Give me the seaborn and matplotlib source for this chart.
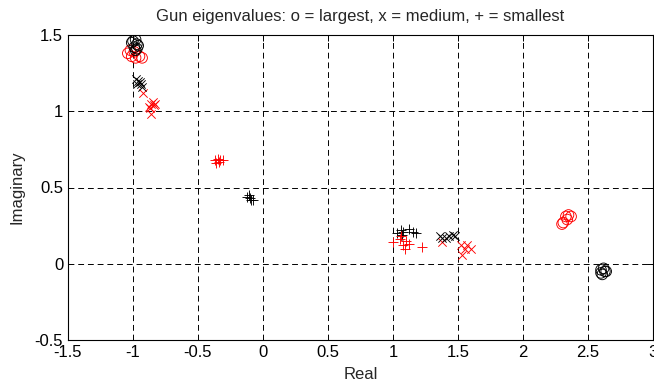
import matplotlib
matplotlib.use("Agg")
import matplotlib.pyplot as plt
import seaborn as sns
import pandas as pd

# --- data ---
largest_black_x = [-1.00, -0.98, -0.97, -0.99, -0.96, -1.01, -0.98, -0.97]
largest_black_y = [1.46, 1.47, 1.44, 1.42, 1.43, 1.45, 1.40, 1.41]
largest_red_x = [-1.04, -1.01, -0.98, -0.95, -0.99, -0.93, -1.02]
largest_red_y = [1.38, 1.36, 1.35, 1.36, 1.39, 1.35, 1.40]
largest_black2_x = [2.60, 2.62, 2.63, 2.61, 2.64, 2.60]
largest_black2_y = [-0.04, -0.03, -0.05, -0.07, -0.05, -0.06]
largest_red2_x = [2.31, 2.33, 2.35, 2.37, 2.34, 2.30]
largest_red2_y = [0.27, 0.31, 0.32, 0.31, 0.29, 0.26]

medium_black_x = [-0.98, -0.96, -0.95, -0.97, -0.94, -0.93]
medium_black_y = [1.21, 1.20, 1.19, 1.18, 1.18, 1.16]
medium_red_x = [-0.92, -0.88, -0.86, -0.85, -0.83, -0.87, -0.86, -0.84]
medium_red_y = [1.12, 1.03, 1.05, 1.06, 1.05, 1.02, 0.98, 1.04]
medium_black2_x = [1.36, 1.38, 1.43, 1.46, 1.48, 1.41]
medium_black2_y = [0.18, 0.17, 0.18, 0.19, 0.18, 0.17]
medium_red2_x = [1.38, 1.52, 1.55, 1.57, 1.60, 1.53]
medium_red2_y = [0.14, 0.12, 0.10, 0.12, 0.10, 0.06]

smallest_red_x = [-0.37, -0.35, -0.34, -0.33, -0.36, -0.31]
smallest_red_y = [0.68, 0.69, 0.67, 0.68, 0.66, 0.68]
smallest_black_x = [-0.12, -0.10, -0.09, -0.11, -0.08]
smallest_black_y = [0.44, 0.43, 0.42, 0.45, 0.42]
smallest_black2_x = [1.03, 1.06, 1.08, 1.12, 1.15, 1.18, 1.07]
smallest_black2_y = [0.20, 0.22, 0.21, 0.23, 0.21, 0.20, 0.19]
smallest_red2_x = [1.00, 1.05, 1.08, 1.09, 1.10, 1.12, 1.22, 1.06]
smallest_red2_y = [0.14, 0.16, 0.12, 0.10, 0.15, 0.13, 0.11, 0.18]

x_ticks = [-1.5, -1, -0.5, 0, 0.5, 1, 1.5, 2, 2.5, 3]
x_tick_labels = ["-1.5", "-1", "-0.5", "0", "0.5", "1", "1.5", "2", "2.5", "3"]
y_ticks = [-0.5, 0, 0.5, 1, 1.5]
y_tick_labels = ["-0.5", "0", "0.5", "1", "1.5"]

sns.set_style("white")
plt.rcParams['font.family'] = ['Liberation Sans', 'DejaVu Sans']

fig = plt.figure(figsize=(6.54, 3.85), dpi=100)
ax = fig.add_axes([68/654, 45/385, 585/654, 305/385])

groups = [
    (largest_red_x, largest_red_y, 'o', 'red'),
    (largest_black_x, largest_black_y, 'o', 'black'),
    (largest_red2_x, largest_red2_y, 'o', 'red'),
    (largest_black2_x, largest_black2_y, 'o', 'black'),
    (medium_red_x, medium_red_y, 'x', 'red'),
    (medium_black_x, medium_black_y, 'x', 'black'),
    (medium_red2_x, medium_red2_y, 'x', 'red'),
    (medium_black2_x, medium_black2_y, 'x', 'black'),
    (smallest_black_x, smallest_black_y, '+', 'black'),
    (smallest_red_x, smallest_red_y, '+', 'red'),
    (smallest_black2_x, smallest_black2_y, '+', 'black'),
    (smallest_red2_x, smallest_red2_y, '+', 'red'),
]

for gx, gy, m, c in groups:
    df = pd.DataFrame({"x": gx, "y": gy})
    if m == 'o':
        sns.scatterplot(data=df, x="x", y="y", marker='o', s=58, ax=ax,
                        facecolors='none', edgecolor=c, linewidth=0.65, legend=False)
    elif m == 'x':
        sns.scatterplot(data=df, x="x", y="y", marker=m, s=36, ax=ax,
                        color=c, linewidth=0.65, legend=False)
    else:
        sns.scatterplot(data=df, x="x", y="y", marker=m, s=55, ax=ax,
                        color=c, linewidth=0.65, legend=False)

ax.set_xlim(-1.5, 3)
ax.set_ylim(-0.5, 1.5)
ax.set_xticks(x_ticks)
ax.set_xticklabels(x_tick_labels)
ax.set_yticks(y_ticks)
ax.set_yticklabels(y_tick_labels)
ax.grid(True, color='black', linestyle=(0, (6, 4)), linewidth=0.7)
ax.tick_params(direction='in', top=True, right=True, length=4, width=0.7,
               labelsize=12, colors='black', pad=3.5)
for sp in ax.spines.values():
    sp.set_visible(True)
    sp.set_color('black')
    sp.set_linewidth(0.8)
ax.set_xlabel("Real", fontsize=12, labelpad=5)
ax.set_ylabel("Imaginary", fontsize=12, labelpad=7)
ax.set_title("Gun eigenvalues: o = largest, x = medium, + = smallest", fontsize=12, pad=10)

fig.savefig("out.png", dpi=100)
